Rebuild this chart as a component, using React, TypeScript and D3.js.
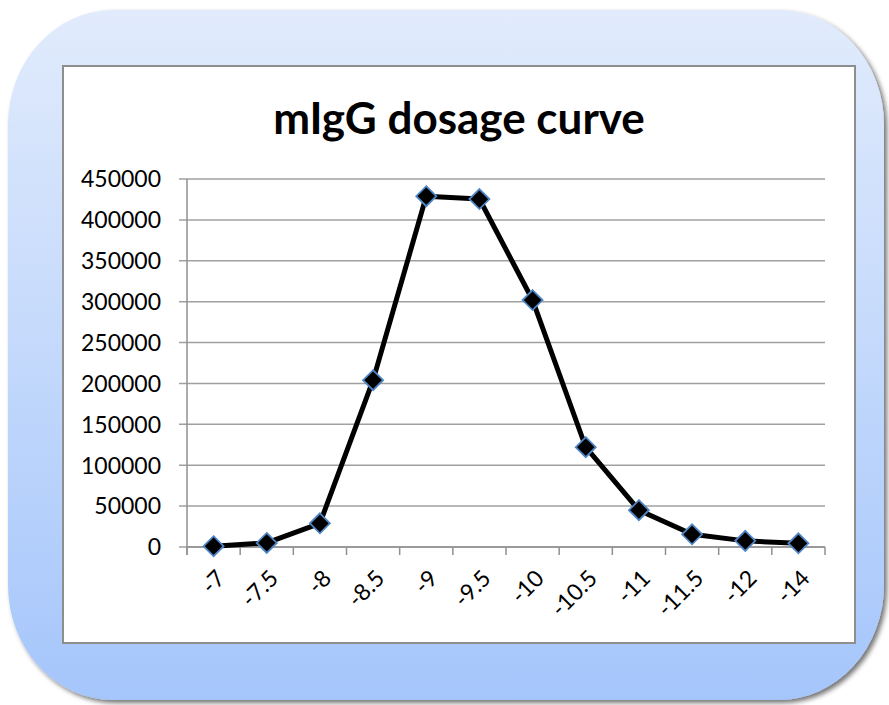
import React from "react";
import * as d3 from "d3";

const doses = ["-7", "-7.5", "-8", "-8.5", "-9", "-9.5", "-10", "-10.5", "-11", "-11.5", "-12", "-14"];
const signal = [1000, 5000, 29000, 204000, 429000, 425500, 302000, 122000, 45000, 15500, 7500, 4500];
const yTicks = [0, 50000, 100000, 150000, 200000, 250000, 300000, 350000, 400000, 450000];

const W = 889;
const H = 705;
const plot = { left: 187, right: 825, top: 179, bottom: 547 };

export default function App() {
  const x = d3.scaleBand().domain(doses).range([plot.left, plot.right]);
  const y = d3.scaleLinear().domain([0, 450000]).range([plot.bottom, plot.top]);

  const pts = doses.map((d, i) => [x(d)! + x.bandwidth() / 2, y(signal[i])] as [number, number]);
  const path = d3.line()(pts) || "";
  const tickXs = d3.range(doses.length + 1).map((i) => plot.left + i * x.bandwidth());

  return (
    <svg width={W} height={H} style={{ position: "absolute", left: 0, top: 0 }}>
      <defs>
        <linearGradient id="bg" x1="0" y1="0" x2="0" y2="1">
          <stop offset="0" stopColor="#e1ebfc" />
          <stop offset="1" stopColor="#a5c6fb" />
        </linearGradient>
        <filter id="shadow" x="-5%" y="-5%" width="115%" height="115%">
          <feGaussianBlur in="SourceAlpha" stdDeviation="2.5" />
          <feOffset dx="3" dy="3" result="b" />
          <feComponentTransfer>
            <feFuncA type="linear" slope="0.55" />
          </feComponentTransfer>
          <feMerge>
            <feMergeNode />
            <feMergeNode in="SourceGraphic" />
          </feMerge>
        </filter>
      </defs>
      <rect x={8} y={10} width={876} height={690} rx={105} ry={115} fill="url(#bg)" filter="url(#shadow)" />
      <rect x={63} y={66} width={792} height={577} fill="#fff" stroke="#8e8e8e" strokeWidth={2} />

      <text x={459} y={134} textAnchor="middle" fontFamily="Lato, 'Open Sans', sans-serif" fontWeight="bold" fontSize={44} fill="#000">
        mIgG dosage curve
      </text>

      {/* gridlines and y ticks */}
      {yTicks.map((t) => (
        <g key={t}>
          <line x1={plot.left - 8} x2={plot.right} y1={y(t)} y2={y(t)} stroke="#a0a0a0" strokeWidth={1.5} />
          <text x={161} y={y(t)} dy="0.36em" textAnchor="end" fontFamily="Lato, sans-serif" fontSize={23} fill="#000">
            {t}
          </text>
        </g>
      ))}
      <line x1={plot.left} x2={plot.left} y1={plot.top} y2={plot.bottom + 8} stroke="#909090" strokeWidth={1.5} />
      <line x1={plot.left} x2={plot.right} y1={plot.bottom} y2={plot.bottom} stroke="#909090" strokeWidth={1.5} />
      {tickXs.map((tx, i) => (
        <line key={i} x1={tx} x2={tx} y1={plot.bottom} y2={plot.bottom + 8} stroke="#909090" strokeWidth={1.5} />
      ))}

      {doses.map((d) => {
        const cx = x(d)! + x.bandwidth() / 2;
        return (
          <text
            key={d}
            transform={`translate(${cx + 7},${plot.bottom + 27}) rotate(-45)`}
            textAnchor="end"
            dy="0.36em"
            fontFamily="Lato, sans-serif"
            fontSize={23}
            fill="#000"
          >
            {d}
          </text>
        );
      })}

      <path d={path} fill="none" stroke="#000" strokeWidth={5} strokeLinejoin="round" />
      {pts.map(([px, py], i) => (
        <path
          key={i}
          d={`M${px},${py - 10}L${px + 10},${py}L${px},${py + 10}L${px - 10},${py}Z`}
          fill="#000"
          stroke="#4f86c6"
          strokeWidth={1.8}
        />
      ))}
    </svg>
  );
}
